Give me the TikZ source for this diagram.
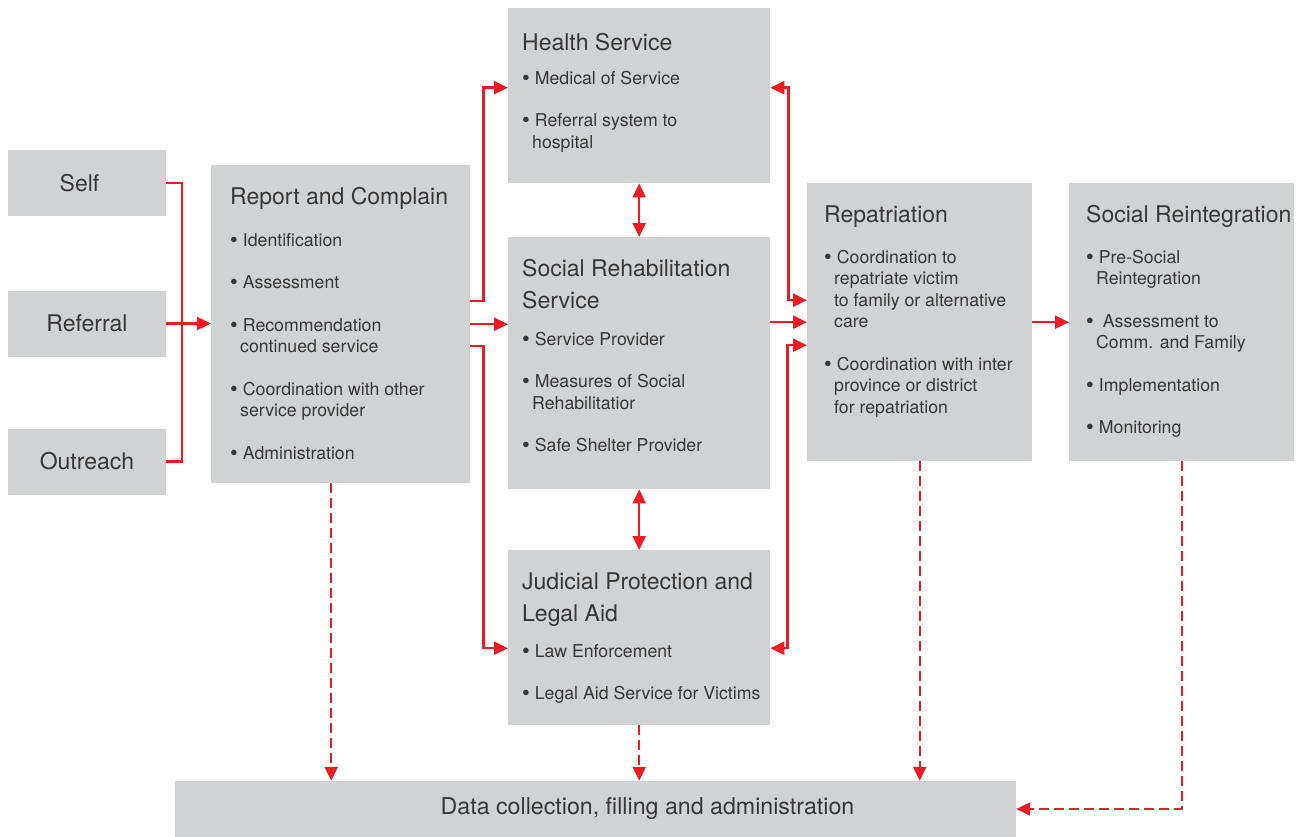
\documentclass[tikz,border=0pt]{standalone}
\usepackage{fontspec}
\setmainfont{TeX Gyre Heros}
\usetikzlibrary{arrows.meta}

\definecolor{boxgray}{RGB}{209,210,212}
\definecolor{flowred}{RGB}{237,28,36}
\definecolor{inkgray}{RGB}{55,55,55}

\newcommand{\headfont}{\fontsize{23}{32}\selectfont}
\newcommand{\itemfont}{\fontsize{17.7}{21.5}\selectfont}
% left pad, width, height, top pad, content
\newcommand{\panelcontent}[5]{\hspace*{#1pt}\parbox[c][#3pt][t]{\dimexpr #2pt-#1pt\relax}{\raggedright\vspace*{#4pt}#5}}
\newcommand{\hd}[1]{{\headfont\rule{0pt}{17pt}#1\par}\itemfont}
\newcommand{\bul}{\raisebox{-1pt}{\fontsize{22}{0}\selectfont\textbullet}\hspace{5pt}}
\newcommand{\itm}[2][21pt]{\vspace{#1}\bul #2\par}
\newcommand{\cont}{\\\hspace*{10pt}}

\begin{document}
\begin{tikzpicture}[
    x=1pt, y=-1pt,
    >={Triangle[length=14pt, width=13pt]},
    font=\itemfont,
    flow/.style={draw=flowred, line width=2.4pt},
    dataflow/.style={flow, ->, dash pattern=on 10pt off 5pt},
    srcbox/.style={fill=boxgray, text=inkgray, minimum width=158pt, minimum height=66pt, inner sep=0pt, font=\headfont},
    panel/.style={fill=boxgray, text=inkgray, inner sep=0pt, anchor=north west}
  ]
  \useasboundingbox (0,0) rectangle (1303,837);

  % sources
  \node[srcbox] (self) at (87,183) {\hspace*{-15pt}Self};
  \node[srcbox] (referral) at (87,323.5) {Referral};
  \node[srcbox] (outreach) at (87,461.5) {Outreach};

  % panels
  \node[panel] (report) at (211,165) {\panelcontent{19}{259}{318}{22}{%
    \hd{Report and Complain}
    \itm[20.5pt]{Identification}
    \itm{Assessment}
    \itm{Recommendation\cont continued service}
    \itm{Coordination with other\cont service provider}
    \itm{Administration}}};
  \node[panel] (health) at (508,8) {\panelcontent{14}{262}{175}{25}{%
    \hd{Health Service}
    \itm[12.5pt]{Medical of Service}
    \itm{Referral system to\cont hospital}}};
  \node[panel] (rehab) at (508,237) {\panelcontent{14}{262}{252}{22}{%
    \hd{Social Rehabilitation\\Service}
    \itm[15.5pt]{Service Provider}
    \itm{Measures of Social\cont Rehabilitatior}
    \itm{Safe Shelter Provider}}};
  \node[panel] (judicial) at (508,550) {\panelcontent{14}{262}{175}{22}{%
    \hd{Judicial Protection and\\Legal Aid}
    \itm[14.5pt]{Law Enforcement}
    \itm{Legal Aid Service for Victims}}};
  \node[panel] (repat) at (807,183) {\panelcontent{17}{225}{278}{22}{%
    \hd{Repatriation}
    \itm[19.5pt]{Coordination to\cont repatriate victim\cont to family or alternative\cont care}
    \itm{Coordination with inter\cont province or district\cont for repatriation}}};
  \node[panel] (reint) at (1069,183) {\panelcontent{17}{225}{278}{22}{%
    \hd{Social Reintegration}
    \itm[19.5pt]{Pre-Social\cont Reintegration}
    \itm{\hspace{4pt}Assessment to\cont Comm. and Family}
    \itm{Implementation}
    \itm{Monitoring}}};
  \node[panel, anchor=center, minimum width=841pt, minimum height=56pt,
        font=\fontsize{23.2}{27}\selectfont] (data) at (595.5,809)
    {\makebox[841pt]{\hspace{104pt}Data collection, filling and administration}};

  % intake
  \coordinate (jn) at (182,323.5);
  \draw[flow] (self.east) -| (jn) |- (outreach.east);
  \draw[flow, ->] (referral.east) -- (report.west |- referral.east);

  % report to services
  \draw[flow, ->] ([yshift=23pt]report.east) -- ++(13,0) |- ([yshift=8pt]health.west);
  \draw[flow, ->] (report.east) -- (rehab.west |- report.east);
  \draw[flow, ->] ([yshift=-22pt]report.east) -- ++(13,0) |- ([yshift=-10.5pt]judicial.west);
  \draw[flow, <->] (health.south) -- (rehab.north);
  \draw[flow, <->] (rehab.south) -- (judicial.north);

  % services to repatriation
  \draw[flow, <->] ([yshift=8pt]health.east) -- ++(18,0) |- ([yshift=22pt]repat.west);
  \draw[flow, ->] (rehab.east |- repat.west) -- (repat.west);
  \draw[flow, <->] ([yshift=-10.5pt]judicial.east) -- ++(17,0) |- ([yshift=-23pt]repat.west);
  \draw[flow, ->] (repat.east) -- (reint.west);

  % records
  \draw[dataflow] ([xshift=-9.5pt]report.south) -- ([xshift=-9.5pt]report.south |- data.north);
  \draw[dataflow] (judicial.south) -- (judicial.south |- data.north);
  \draw[dataflow] (repat.south) -- (repat.south |- data.north);
  \draw[dataflow] (reint.south) |- (data.east);
\end{tikzpicture}
\end{document}
